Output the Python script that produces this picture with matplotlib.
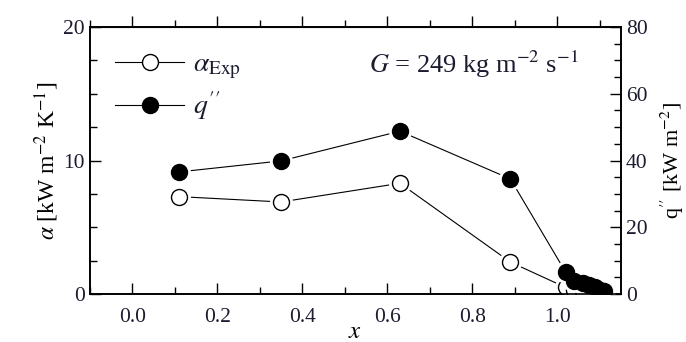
import matplotlib
matplotlib.use("Agg")
import matplotlib.pyplot as plt
from matplotlib.lines import Line2D
from matplotlib.ticker import MultipleLocator

plt.rcParams['font.family'] = ['Liberation Serif', 'DejaVu Serif']
plt.rcParams['mathtext.fontset'] = 'stix'

# vapour quality
x_quality = [0.11, 0.35, 0.63, 0.89, 1.02, 1.04, 1.06, 1.075, 1.09, 1.10, 1.11]
# heat transfer coefficient [kW m-2 K-1]
alpha_exp = [7.3, 6.9, 8.3, 2.4, 0.5, 0.3, 0.25, 0.2, 0.15, 0.1, 0.1]
# heat flux [kW m-2]
q_flux = [36.6, 39.9, 48.8, 34.5, 6.6, 3.8, 3.2, 2.6, 2.0, 1.3, 1.0]

ink = '#1c1c30'

fig = plt.figure(figsize=(6.86, 3.42), dpi=100)
ax = fig.add_axes([0.131, 0.140, 0.774, 0.781])
ax2 = ax.twinx()

# lines first, then a white halo so the line stops short of each marker
ax.plot(x_quality, alpha_exp, '-', color='black', lw=0.8, zorder=1)
ax.plot(x_quality, alpha_exp, 'o', ms=15.5, mfc='white', mec='white', zorder=2)
ax.plot(x_quality, alpha_exp, 'o', ms=11.5, mfc='white', mec='black', mew=1.0, zorder=3)

ax2.plot(x_quality, q_flux, '-', color='black', lw=0.8, zorder=1)
ax2.plot(x_quality, q_flux, 'o', ms=15.5, mfc='white', mec='white', zorder=2)
ax2.plot(x_quality, q_flux, 'o', ms=11.5, mfc='black', mec='black', zorder=3)

ax.set_xlim(-0.1, 1.15)
ax.set_ylim(0, 20)
ax2.set_ylim(0, 80)

ax.xaxis.set_major_locator(MultipleLocator(0.2))
ax.xaxis.set_minor_locator(MultipleLocator(0.1))
ax.yaxis.set_major_locator(MultipleLocator(10))
ax.yaxis.set_minor_locator(MultipleLocator(2.5))
ax2.yaxis.set_major_locator(MultipleLocator(20))
ax2.yaxis.set_minor_locator(MultipleLocator(5))
ax.xaxis.set_major_formatter(matplotlib.ticker.FormatStrFormatter('%.1f'))

ax.tick_params(axis='x', which='both', direction='in', top=False, labelsize=15.5, labelcolor=ink, pad=10)
ax.tick_params(axis='y', which='both', direction='in', right=False, labelsize=15.5, labelcolor=ink)
ax2.tick_params(axis='y', which='both', direction='in', labelsize=15.5, labelcolor=ink)
ax.tick_params(which='major', length=8, width=1)
ax.tick_params(which='minor', length=5, width=1)
ax2.tick_params(which='major', length=8, width=1)
ax2.tick_params(which='minor', length=5, width=1)

# outward ticks along the top edge
top = ax.secondary_xaxis('top')
top.xaxis.set_major_locator(MultipleLocator(0.2))
top.xaxis.set_minor_locator(MultipleLocator(0.1))
top.tick_params(which='major', direction='out', length=8, width=1, labeltop=False)
top.tick_params(which='minor', direction='out', length=5, width=1)

for a in (ax, ax2):
    for s in a.spines.values():
        s.set_linewidth(1.2)

ax.set_xlabel(r'$x$', fontsize=18, labelpad=-4)
ax.set_ylabel(r'$\alpha$ [kW m$^{-2}$ K$^{-1}$]', fontsize=17, labelpad=2)
ax2.set_ylabel(r"q$''$ [kW m$^{-2}$]", fontsize=16, rotation=90, labelpad=8)

ax.text(0.92, 0.86, r'$G$ = 249 kg m$^{-2}$ s$^{-1}$', transform=ax.transAxes,
        ha='right', va='center', fontsize=19, color=ink)

handles = [
    Line2D([], [], color='black', lw=0.8, marker='o', ms=11.5, mfc='white', mec='black'),
    Line2D([], [], color='black', lw=0.8, marker='o', ms=11.5, mfc='black', mec='black'),
]
labels = [r'$\alpha_{\rm Exp}$', r"$q''$"]
ax.legend(handles, labels, loc='upper left', bbox_to_anchor=(0.0, 1.0), frameon=False,
          fontsize=20, handlelength=2.5, handletextpad=0.3, labelspacing=0.3,
          labelcolor=ink)

fig.savefig('out.png', dpi=100)
